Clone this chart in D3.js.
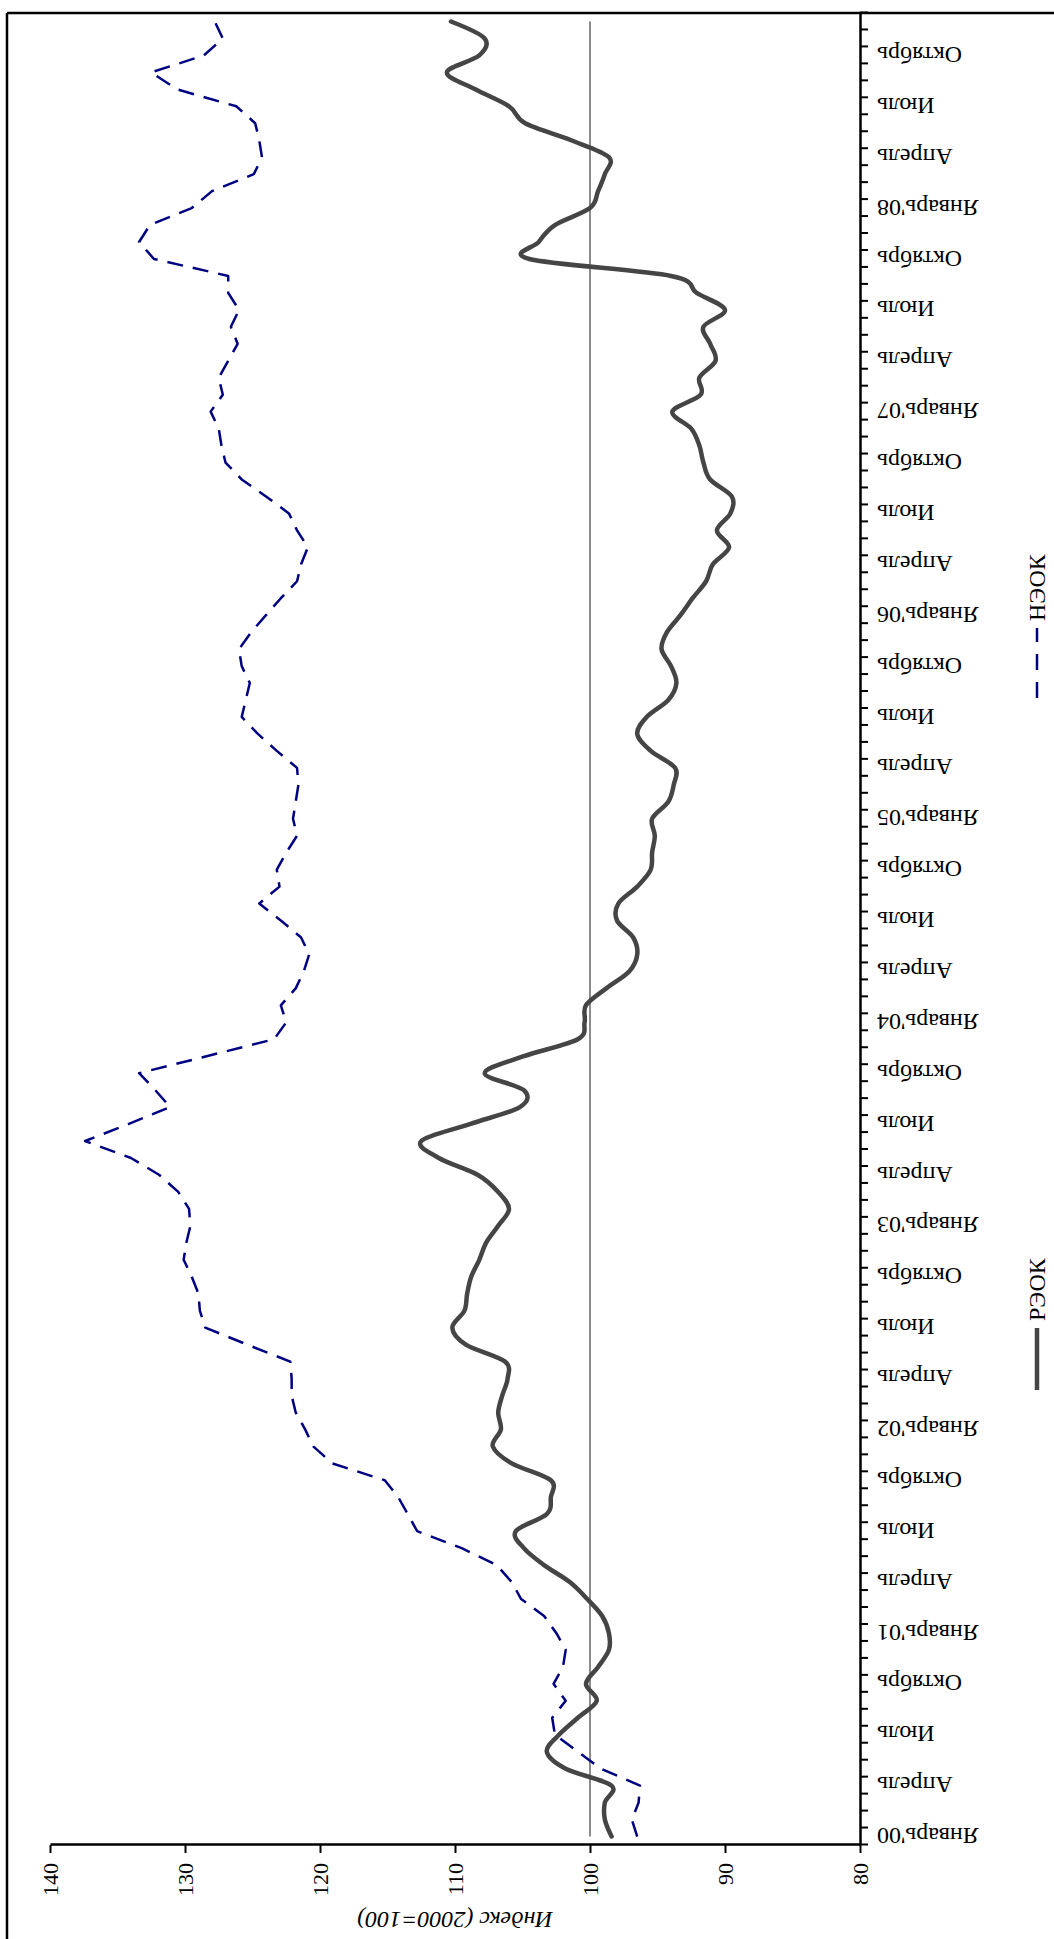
<!DOCTYPE html>
<html lang="ru">
<head>
<meta charset="UTF-8">
<title>РЭОК и НЭОК</title>
<script src="https://d3js.org/d3.v7.min.js"></script>
<style>
  body { margin: 0; background: #fff; }
  svg { display: block; }
  text { font-family: 'Liberation Serif', 'Times New Roman', serif; fill: #000; }
  .axis path, .axis line { stroke: #000; }
  .axis path { stroke-width: 2.5px; }
  .axis line { stroke-width: 2px; }
</style>
</head>
<body>
<div id="chart"></div>
<script>
// tick labels, one every 3 months (Jan 2000 .. Oct 2008)
const monthLabels = [
  "Январь'00", "Апрель", "Июль", "Октябрь",
  "Январь'01", "Апрель", "Июль", "Октябрь",
  "Январь'02", "Апрель", "Июль", "Октябрь",
  "Январь'03", "Апрель", "Июль", "Октябрь",
  "Январь'04", "Апрель", "Июль", "Октябрь",
  "Январь'05", "Апрель", "Июль", "Октябрь",
  "Январь'06", "Апрель", "Июль", "Октябрь",
  "Январь'07", "Апрель", "Июль", "Октябрь",
  "Январь'08", "Апрель", "Июль", "Октябрь"
];

// monthly values, Jan 2000 .. Dec 2008
const reok = [
  98.4, 98.9, 98.9, 98.4, 101.8, 103.2, 102.3, 100.9, 99.5, 100.3, 99.4, 98.6,
  98.6, 99.1, 100.2, 101.5, 103.4, 104.9, 105.5, 103.2, 102.9, 102.9, 105.8, 107.2,
  106.6, 106.8, 106.5, 106.1, 106.3, 109.2, 110.2, 109.3, 109.1, 108.8, 108.2, 107.7,
  106.8, 106.0, 106.8, 108.3, 111.2, 112.5, 108.9, 105.2, 104.9, 107.8, 104.9, 100.9,
  100.4, 100.3, 98.8, 97.1, 96.5, 96.8, 98.0, 97.9, 96.5, 95.5, 95.4, 95.2,
  95.4, 94.2, 93.8, 93.7, 95.5, 96.5, 95.8, 94.2, 93.6, 94.0, 94.7, 94.3,
  93.3, 92.4, 91.4, 90.9, 89.7, 90.6, 89.6, 89.5, 91.1, 91.6, 91.9, 92.5,
  93.9, 91.8, 91.9, 90.7, 91.1, 91.6, 90.0, 92.1, 94.0, 104.5, 103.8, 102.6,
  100.0, 99.4, 98.9, 98.6, 101.4, 104.8, 106.0, 108.5, 110.6, 108.2, 107.8, 110.3
];
const neok = [
  96.5, 96.9, 96.4, 96.3, 99.2, 100.9, 102.6, 102.8, 101.8, 102.7, 102.0, 101.8,
  102.5, 103.4, 105.1, 105.8, 106.9, 109.5, 112.8, 113.5, 114.2, 115.2, 119.1, 120.5,
  121.1, 121.8, 122.1, 122.1, 122.2, 125.4, 128.5, 128.9, 129.0, 129.5, 130.1, 129.9,
  129.6, 129.7, 130.5, 131.9, 134.0, 137.4, 134.2, 131.1, 132.2, 133.4, 128.4, 123.4,
  122.5, 122.9, 121.8, 121.2, 120.8, 121.4, 122.9, 124.5, 123.0, 123.2, 122.5, 121.7,
  122.0, 121.8, 121.6, 121.7, 123.2, 124.6, 125.8, 125.5, 125.2, 125.8, 126.0, 125.1,
  124.0, 122.9, 121.7, 121.4, 120.9, 121.7, 122.3, 124.0, 125.8, 127.0, 127.3, 127.5,
  128.1, 127.2, 127.5, 126.8, 126.1, 126.6, 126.0, 126.8, 126.8, 132.3, 133.4, 132.6,
  129.5, 128.0, 124.9, 124.3, 124.5, 124.8, 126.2, 130.6, 132.5, 128.6, 127.2, 127.8
];
const baseLevel = 100;
const valueTicks = [80, 90, 100, 110, 120, 130, 140];
const seriesNames = ["РЭОК", "НЭОК"];

const W = 1054, H = 1939;
const svg = d3.select("#chart").append("svg")
    .attr("width", W)
    .attr("height", H);

// chart border (top and left edges are visible)
svg.append("line").attr("x1", 7).attr("y1", 13).attr("x2", W).attr("y2", 13)
    .attr("stroke", "#000").attr("stroke-width", 2.5);
svg.append("line").attr("x1", 7).attr("y1", 13).attr("x2", 7).attr("y2", H)
    .attr("stroke", "#000").attr("stroke-width", 2.5);

// the whole chart is drawn landscape and turned a quarter turn counter-clockwise
const g = svg.append("g").attr("transform", `translate(0,${H}) rotate(-90)`);

const nMonths = reok.length;
const x = d3.scaleLinear().domain([0, nMonths]).range([94, 1926]);
const y = d3.scaleLinear().domain([80, 140]).range([860, 50]);
const px = i => x(i + 0.5);

// category axis: ticks on month boundaries
g.append("g")
    .attr("class", "axis")
    .attr("transform", `translate(0,${y(80)})`)
    .call(d3.axisBottom(x).tickValues(d3.range(0, nMonths + 1)).tickFormat("").tickSize(8).tickSizeOuter(0));

g.selectAll(".mlab")
    .data(monthLabels)
    .join("text")
    .attr("class", "mlab")
    .attr("transform", (d, k) => `translate(${px(k * 3)},${y(80) + 17}) rotate(-90)`)
    .attr("text-anchor", "end")
    .attr("dy", "0.35em")
    .style("font-size", "24px")
    .text(d => d);

// value axis
const yAxis = g.append("g")
    .attr("class", "axis")
    .attr("transform", `translate(${x(0)},0)`)
    .call(d3.axisLeft(y).tickValues(valueTicks).tickSize(8).tickSizeOuter(0).tickPadding(10));
yAxis.selectAll("text")
    .style("font-size", "22px")
    .style("font-family", "'Liberation Serif', serif");

g.append("text")
    .attr("transform", `translate(19,${(y(80) + y(140)) / 2}) rotate(-90)`)
    .attr("text-anchor", "middle")
    .attr("dy", "0.35em")
    .style("font-size", "24px")
    .style("font-style", "italic")
    .text("Индекс (2000=100)");

// 2000 = 100 level
g.append("line")
    .attr("x1", px(0)).attr("x2", px(nMonths - 1))
    .attr("y1", y(baseLevel)).attr("y2", y(baseLevel))
    .attr("stroke", "#8c8c8c")
    .attr("stroke-width", 2);

const smooth = d3.line()
    .x((d, i) => px(i))
    .y(d => y(d))
    .curve(d3.curveCardinal.tension(0));

const straight = d3.line()
    .x((d, i) => px(i))
    .y(d => y(d));

g.append("path")
    .attr("d", smooth(reok))
    .attr("fill", "none")
    .attr("stroke", "#454545")
    .attr("stroke-width", 4.5)
    .attr("stroke-linecap", "round");

g.append("path")
    .attr("d", straight(neok))
    .attr("fill", "none")
    .attr("stroke", "#000080")
    .attr("stroke-width", 2.5)
    .attr("stroke-linejoin", "round")
    .attr("stroke-dasharray", "16,10");

// legend
const legend = [
  { name: seriesNames[0], x0: 549, len: 62, color: "#454545", width: 4.5, dash: null },
  { name: seriesNames[1], x0: 1241, len: 70, color: "#000080", width: 2.5, dash: "16,12" }
];
const ly = 1037;
legend.forEach(l => {
    g.append("line")
        .attr("x1", l.x0).attr("x2", l.x0 + l.len)
        .attr("y1", ly).attr("y2", ly)
        .attr("stroke", l.color)
        .attr("stroke-width", l.width)
        .attr("stroke-dasharray", l.dash);
    g.append("text")
        .attr("x", l.x0 + l.len + 7)
        .attr("y", ly)
        .attr("dy", "0.35em")
        .style("font-size", "24px")
        .text(l.name);
});
</script>
</body>
</html>
